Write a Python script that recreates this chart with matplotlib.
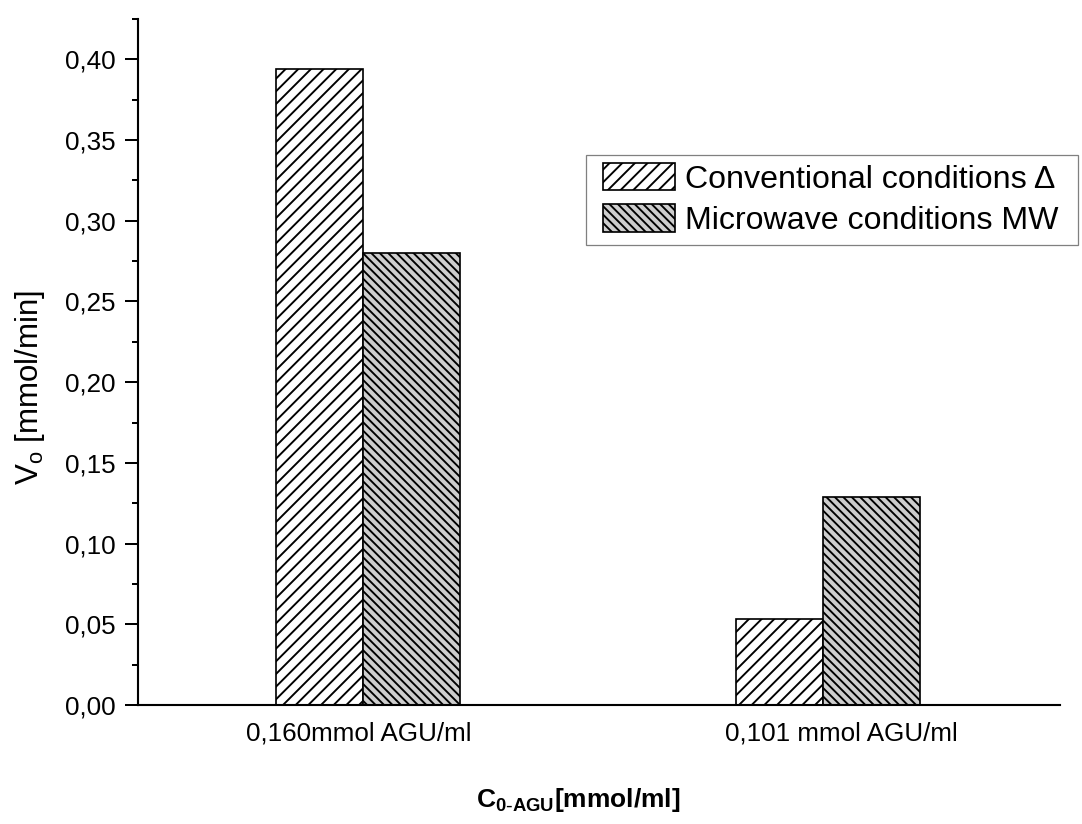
import matplotlib
matplotlib.use("Agg")
import matplotlib.pyplot as plt
from matplotlib.ticker import MultipleLocator, FuncFormatter
from matplotlib.patches import Rectangle
import matplotlib.transforms as mtransforms
import numpy as np

categories = ["0,160mmol AGU/ml", "0,101 mmol AGU/ml"]
series_names = ["Conventional conditions \u0394", "Microwave conditions MW"]
conventional = [0.394, 0.053]
microwave = [0.280, 0.129]

DPI = 152
W, H = 1082, 824
plt.rcParams['font.family'] = ['Liberation Sans', 'DejaVu Sans']
plt.rcParams['hatch.linewidth'] = 0.9
plt.rcParams['hatch.color'] = 'black'

fig = plt.figure(figsize=(W / DPI, H / DPI), dpi=DPI)
ax = fig.add_axes([138 / W, 1 - 705 / H, (1060 - 138) / W, (705 - 19) / H])

x = np.arange(len(categories))
w1 = 87 / 460
w2 = 97 / 460
ax.bar(x, conventional, width=-w1, align='edge', color='white', edgecolor='black',
       linewidth=0.8, hatch='////', label=series_names[0])
ax.bar(x, microwave, width=w2, align='edge', color='#cdcdcd', edgecolor='black',
       linewidth=0.8, hatch='\\\\\\\\\\\\', label=series_names[1])

ax.set_xlim((138 - 363) / 460, (1060 - 363) / 460)
ax.set_ylim(0, 0.425)
ax.yaxis.set_major_locator(MultipleLocator(0.05))
ax.yaxis.set_minor_locator(MultipleLocator(0.025))
ax.yaxis.set_major_formatter(FuncFormatter(lambda v, p: f"{v:.2f}".replace('.', ',')))

ax.set_xticks(x)
ax.set_xticklabels(categories)
ax.tick_params(axis='x', length=0, pad=8, labelsize=12.3)
ax.tick_params(axis='y', which='major', direction='out', length=6.2, width=0.95, labelsize=12.3, pad=4.5)
ax.tick_params(axis='y', which='minor', direction='out', length=2.9, width=0.95)

# small horizontal label offsets (pixels) as in the original
label_shift_px = [-4, 18]
for lbl, dx in zip(ax.get_xticklabels(), label_shift_px):
    lbl.set_transform(lbl.get_transform() + mtransforms.Affine2D().translate(dx, 0))

for s in ['top', 'right']:
    ax.spines[s].set_visible(False)
for s in ['left', 'bottom']:
    ax.spines[s].set_linewidth(1.0)

ax_w = 1060 - 138
ax_h = 705 - 19
yl = ax.set_ylabel("V$_\\mathregular{o}$ [mmol/min]", fontsize=14.8)
ax.yaxis.set_label_coords(-(138 - 30) / ax_w, (705 - 387) / ax_h)
yl.set_va('center')
xl = ax.set_xlabel("C$_\\mathregular{0\\text{-}AGU}$[mmol/ml]", fontsize=12.5, fontweight='bold')
ax.xaxis.set_label_coords((578 - 138) / ax_w, -(800 - 705) / ax_h)
xl.set_va('center')

leg = ax.legend(loc='upper left', bbox_to_anchor=(603 / W, 1 - 163 / H),
                bbox_transform=fig.transFigure, borderaxespad=0, frameon=False,
                fontsize=15.2, handlelength=2.25, handleheight=0.94, handletextpad=0.3,
                labelspacing=0.3, borderpad=0)
fig.patches.append(Rectangle((586 / W, 1 - 245 / H), (1078 - 586) / W, (245 - 155) / H,
                             transform=fig.transFigure, facecolor='none',
                             edgecolor='#808080', linewidth=0.6, zorder=5))

fig.savefig("out.png", dpi=DPI)
